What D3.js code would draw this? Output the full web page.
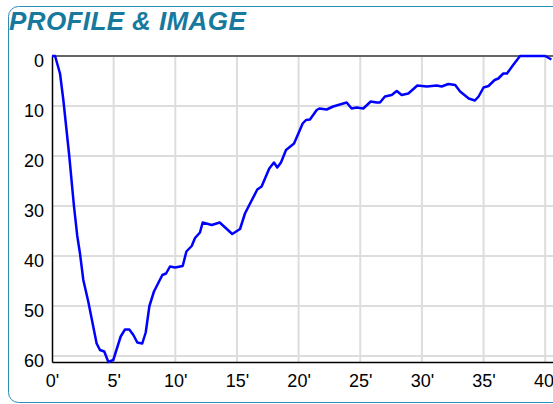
<!DOCTYPE html>
<html>
<head>
<meta charset="utf-8">
<script src="https://cdn.jsdelivr.net/npm/d3@7"></script>
<style>
  body { margin: 0; overflow: hidden; background: #fff; }
</style>
</head>
<body>
<svg id="profile"></svg>
<script>
// distance (minutes of arc) and depth values
const distances = [0, 0.25, 0.65, 0.92, 1.4, 1.78, 2.05, 2.27, 2.54, 2.94, 3.62, 3.89, 4.24, 4.57, 4.97,
  5.57, 5.92, 6.27, 6.6, 6.92, 7.32, 7.6, 7.9, 8.27, 8.95, 9.25, 9.57, 9.98, 10.6, 10.9, 11.33,
  11.6, 12.0, 12.22, 12.95, 13.6, 14.62, 15.25, 15.65, 16.65, 17.0, 17.62, 18.0, 18.27, 18.57,
  18.98, 19.63, 20.33, 20.6, 20.92, 21.47, 21.68, 22.28, 22.8, 23.9, 24.3, 24.7, 25.25, 25.85,
  26.33, 26.6, 27.0, 27.55, 27.96, 28.36, 28.9, 29.63, 30.4, 31.2, 31.6, 32.14, 32.7, 33.1,
  33.8, 34.3, 34.6, 35.0, 35.4, 35.9, 36.2, 36.6, 36.9, 37.4, 37.96, 40.0, 40.5];
const depths = [0, 0, 3.5, 8.8, 20, 30, 36, 39.5, 44.8, 49.1, 57.5, 58.8, 59.1, 61.2, 60.8,
  56.1, 54.7, 54.7, 55.8, 57.3, 57.5, 55.3, 50, 47.1, 43.8, 43.5, 42.1, 42.3, 42, 39.1, 38,
  36.4, 35.3, 33.3, 33.8, 33.3, 35.6, 34.6, 31.5, 26.7, 26.1, 22.5, 21.3, 22.3, 21.3,
  18.8, 17.5, 13.5, 12.8, 12.7, 10.8, 10.5, 10.7, 10.1, 9.3, 10.5, 10.3, 10.5, 9.1,
  9.3, 9.3, 8.1, 7.8, 7.0, 7.8, 7.5, 5.9, 6.1, 5.9, 6.1, 5.6, 5.8, 7.1,
  8.5, 8.9, 8.1, 6.3, 6.0, 4.8, 4.5, 3.5, 3.5, 1.8, 0, 0, 0.7];
const yTicks = [0, 10, 20, 30, 40, 50, 60];
const xTicks = [0, 5, 10, 15, 20, 25, 30, 35, 40];
const title = "PROFILE & IMAGE";

const width = 620, height = 404;
const plot = { left: 52, top: 56, bottom: 362 };

const svg = d3.select("#profile")
    .attr("width", width)
    .attr("height", height);

// rounded panel frame (runs off the right edge like the original)
svg.append("rect")
    .attr("x", 8.5).attr("y", 6.5)
    .attr("width", 640).attr("height", 396)
    .attr("rx", 10)
    .attr("fill", "#fff")
    .attr("stroke", "#2a8db5")
    .attr("stroke-width", 1);

svg.append("text")
    .attr("x", 9).attr("y", 30)
    .attr("font-family", "Liberation Sans, Arial, sans-serif")
    .attr("font-size", 26)
    .attr("letter-spacing", 0.4)
    .attr("font-weight", "bold")
    .attr("font-style", "italic")
    .attr("fill", "#16799d")
    .text(title);

const x = d3.scaleLinear()
    .domain([0, 42])
    .range([plot.left, plot.left + 42 * 12.33]);

const y = d3.scaleLinear()
    .domain([0, d3.max(depths)])
    .range([plot.top, plot.bottom]);

// grid
svg.append("g")
    .selectAll("line")
    .data(yTicks.filter(d => d > 0))
    .enter().append("line")
    .attr("x1", plot.left).attr("x2", width)
    .attr("y1", d => y(d)).attr("y2", d => y(d))
    .attr("stroke", "#ddd").attr("stroke-width", 2);

svg.append("g")
    .selectAll("line")
    .data(xTicks.filter(d => d > 0))
    .enter().append("line")
    .attr("x1", d => x(d)).attr("x2", d => x(d))
    .attr("y1", plot.top).attr("y2", plot.bottom)
    .attr("stroke", "#ddd").attr("stroke-width", 2);

// top border
svg.append("line")
    .attr("x1", plot.left).attr("x2", width)
    .attr("y1", plot.top).attr("y2", plot.top)
    .attr("stroke", "#666").attr("stroke-width", 2);

// axes
const yAxis = d3.axisLeft(y).tickValues(yTicks).tickSize(0).tickPadding(8);
const gy = svg.append("g")
    .attr("transform", `translate(${plot.left},0)`)
    .call(yAxis);
gy.select(".domain").attr("stroke", "#000").attr("stroke-width", 1.5);
gy.selectAll("text")
    .attr("font-family", "Liberation Sans, Arial, sans-serif")
    .attr("font-size", 18)
    .attr("fill", "#000")
    .attr("dy", "0.6em");

const xAxis = d3.axisBottom(x).tickValues(xTicks).tickSize(0).tickPadding(12)
    .tickFormat(d => d + "'");
const gx = svg.append("g")
    .attr("transform", `translate(0,${plot.bottom})`)
    .call(xAxis);
gx.select(".domain").attr("stroke", "#000").attr("stroke-width", 1.5);
gx.selectAll("text")
    .attr("font-family", "Liberation Sans, Arial, sans-serif")
    .attr("font-size", 18)
    .attr("fill", "#000");

// profile line
const line = d3.line()
    .x((d, i) => x(distances[i]))
    .y(d => y(d));

svg.append("path")
    .datum(depths)
    .attr("d", line)
    .attr("fill", "none")
    .attr("stroke", "#0000ff")
    .attr("stroke-width", 2.5)
    .attr("stroke-linejoin", "round");
</script>
</body>
</html>
